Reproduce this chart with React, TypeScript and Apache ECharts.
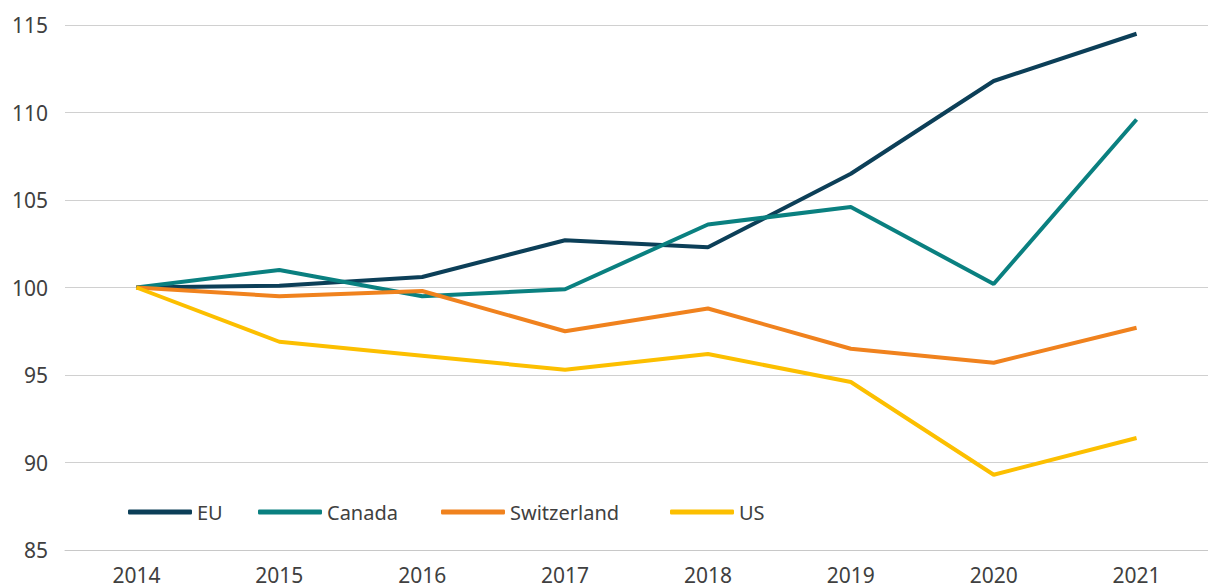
import React, { useEffect, useRef } from "react";
import * as echarts from "echarts";

const years = ["2014", "2015", "2016", "2017", "2018", "2019", "2020", "2021"];
const eu = [100, 100.1, 100.6, 102.7, 102.3, 106.5, 111.8, 114.5];
const canada = [100, 101.0, 99.5, 99.9, 103.6, 104.6, 100.2, 109.6];
const switzerland = [100, 99.5, 99.8, 97.5, 98.8, 96.5, 95.7, 97.7];
const us = [100, 96.9, 96.1, 95.3, 96.2, 94.6, 89.3, 91.4];

const seriesDefs = [
  { name: "EU", data: eu, color: "#0c3f58" },
  { name: "Canada", data: canada, color: "#0a8080" },
  { name: "Switzerland", data: switzerland, color: "#f0821e" },
  { name: "US", data: us, color: "#fcbf00" },
];
const legendLefts = [128, 258, 441, 670];

const FONT = "'Noto Sans', sans-serif";

export default function App() {
  const ref = useRef<HTMLDivElement>(null);
  useEffect(() => {
    if (!ref.current) return;
    const chart = echarts.init(ref.current, undefined, { renderer: "svg" });
    chart.setOption({
      animation: false,
      backgroundColor: "#ffffff",
      textStyle: { fontFamily: FONT },
      grid: { left: 65, right: -7, top: 25, bottom: 38, containLabel: false },
      legend: seriesDefs.map((s, i) => ({
        data: [s.name],
        left: legendLefts[i],
        top: 502,
        padding: 0,
        icon: "roundRect",
        itemWidth: 64,
        itemHeight: 5,
        itemGap: 5,
        textStyle: { fontFamily: FONT, fontSize: 20, color: "#404040" },
        selectedMode: false,
      })),
      xAxis: {
        type: "category",
        data: years,
        boundaryGap: true,
        axisLine: { show: true, lineStyle: { color: "#c8c8c8", width: 1 } },
        axisTick: { show: false },
        axisLabel: { fontFamily: FONT, fontSize: 21, color: "#404040", margin: 14 },
      },
      yAxis: {
        type: "value",
        min: 85,
        max: 115,
        interval: 5,
        axisLine: { show: false },
        axisTick: { show: false },
        splitLine: { lineStyle: { color: "#d0d0d0", width: 1 } },
        axisLabel: { fontFamily: FONT, fontSize: 21, color: "#404040", margin: 17 },
      },
      series: seriesDefs.map((s) => ({
        name: s.name,
        type: "line",
        data: s.data,
        symbol: "none",
        color: s.color,
        lineStyle: { color: s.color, width: 4 },
        itemStyle: { color: s.color },
      })),
    });
    return () => chart.dispose();
  }, []);
  return (
    <div
      ref={ref}
      style={{ position: "absolute", left: 0, top: 0, width: 1208, height: 588 }}
    />
  );
}
